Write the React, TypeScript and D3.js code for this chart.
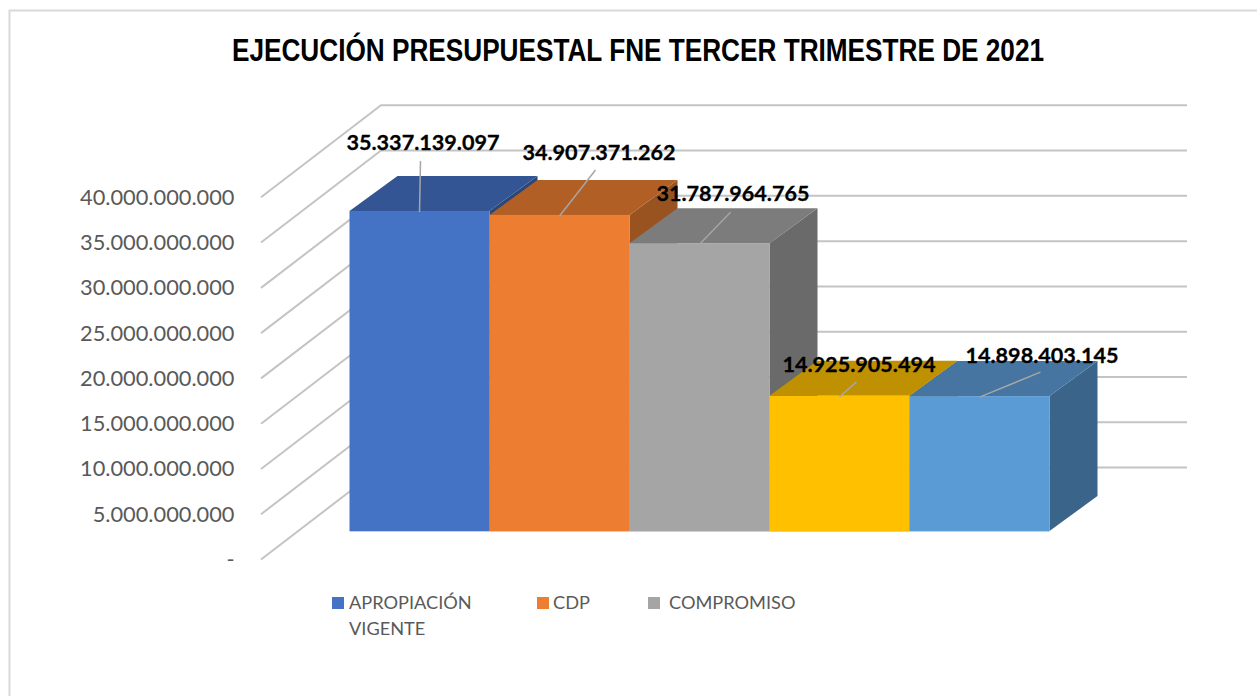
import React from "react";
import * as d3 from "d3";

const chartTitle = "EJECUCIÓN PRESUPUESTAL FNE TERCER TRIMESTRE DE 2021";
const values = [35337139097, 34907371262, 31787964765, 14925905494, 14898403145];
const axisTicks = [0, 5e9, 10e9, 15e9, 20e9, 25e9, 30e9, 35e9, 40e9];

const frontColors = ["#4472C4", "#ED7D31", "#A5A5A5", "#FFC000", "#5B9BD5"];
const topColors = ["#335593", "#B25F25", "#7C7C7C", "#BF9000", "#4575A0"];
const sideColors = ["#2A4778", "#995320", "#6A6A6A", "#A67D00", "#3A6489"];

// label anchor and leader line, relative to the centre of each bar's top front edge
const labelDx = [3.5, 39.5, 33.5, 19.5, 62.5];
const labelBaselineDy = [-61, -55, -42, -24, -33];
const leaderEnd = [[1, -50], [36, -45], [31, -31], [17, -14], [61, -24]];
const legendItems = [
  { i: 0, sx: 332, tx: 349, lines: ["APROPIACIÓN", "VIGENTE"] },
  { i: 1, sx: 537, tx: 553, lines: ["CDP"] },
  { i: 2, sx: 648, tx: 669, lines: ["COMPROMISO"] },
];

const numFmt = d3.formatLocale({
  decimal: ",",
  thousands: ".",
  grouping: [3],
  currency: ["$", ""],
}).format(",d");

const y = d3.scaleLinear().domain([0, 40e9]).range([531, 168.8]);
const x = d3.scaleBand<number>().domain(d3.range(values.length)).range([349.5, 1049.5]).padding(0);

const DEPTH = { dx: 48, dy: -35 };
const GRID_FRONT = { x: 261, dy: 28 };
const GRID_BACK = { x: 381, dy: -64 };
const GRID_END = 1187;
const GRID_COLOR = "#C4C4C4";
const LABEL_FONT = "Lato, Carlito, Calibri, sans-serif";

const poly = (pts: number[][]) => pts.map((p) => p.join(",")).join(" ");

export default function App() {
  const base = y(0);
  return (
    <svg
      width={1257}
      height={696}
      viewBox="0 0 1257 696"
      style={{ position: "absolute", left: 0, top: 0, background: "#fff" }}
    >
      <path d="M9.5 696V10.5H1257" fill="none" stroke="#D9D9D9" strokeWidth={2} />
      <text
        x={638}
        y={60.5}
        textAnchor="middle"
        textLength={812}
        lengthAdjust="spacingAndGlyphs"
        fontFamily="'Liberation Sans Narrow', 'Liberation Sans', Arial, sans-serif"
        fontWeight={700}
        fontSize={31}
        fill="#000"
      >
        {chartTitle}
      </text>

      {axisTicks.map((t) => (
        <g key={t}>
          <polyline
            points={poly([
              [GRID_FRONT.x, y(t) + GRID_FRONT.dy + 0.5],
              [GRID_BACK.x, y(t) + GRID_BACK.dy + 0.5],
              [GRID_END, y(t) + GRID_BACK.dy + 0.5],
            ])}
            fill="none"
            stroke={GRID_COLOR}
            strokeWidth={2}
          />
          <text
            x={234.5}
            y={y(t) + GRID_FRONT.dy + 8}
            textAnchor="end"
            fontFamily={LABEL_FONT}
            fontSize={21.8}
            fill="#595959"
          >
            {t === 0 ? "-" : numFmt(t)}
          </text>
        </g>
      ))}

      {values.map((v, i) => {
        const x0 = x(i)!;
        const x1 = x0 + x.bandwidth();
        const top = y(v);
        return (
          <g key={"bar" + i}>
            <polygon
              points={poly([
                [x1, top],
                [x1 + DEPTH.dx, top + DEPTH.dy],
                [x1 + DEPTH.dx, base + DEPTH.dy],
                [x1, base],
              ])}
              fill={sideColors[i]}
            />
            <polygon
              points={poly([
                [x0, top],
                [x0 + DEPTH.dx, top + DEPTH.dy],
                [x1 + DEPTH.dx, top + DEPTH.dy],
                [x1, top],
              ])}
              fill={topColors[i]}
            />
            <rect x={x0} y={top} width={x.bandwidth()} height={base - top} fill={frontColors[i]} />
          </g>
        );
      })}
      <line x1={349.5} x2={1049.5} y1={531.5} y2={531.5} stroke="#D0D0D0" strokeWidth={1} />

      {values.map((v, i) => {
        const cx = x(i)! + x.bandwidth() / 2;
        const top = y(v);
        return (
          <g key={"label" + i}>
            <line
              x1={cx}
              y1={top + 1}
              x2={cx + leaderEnd[i][0]}
              y2={top + leaderEnd[i][1]}
              stroke="#A6A6A6"
              strokeWidth={1.5}
            />
            <text
              x={cx + labelDx[i]}
              y={top + labelBaselineDy[i]}
              textAnchor="middle"
              fontFamily={LABEL_FONT}
              fontWeight={700}
              fontSize={21.6}
              fill="#000"
              stroke="#000"
              strokeWidth={0.3}
            >
              {numFmt(v)}
            </text>
          </g>
        );
      })}

      {legendItems.map((it) => (
        <g key={it.i}>
          <rect x={it.sx} y={597} width={12} height={12} fill={frontColors[it.i]} />
          {it.lines.map((ln, k) => (
            <text
              key={ln}
              x={it.tx}
              y={609 + k * 26}
              fontFamily={LABEL_FONT}
              fontSize={18.2}
              fill="#595959"
            >
              {ln}
            </text>
          ))}
        </g>
      ))}
    </svg>
  );
}
